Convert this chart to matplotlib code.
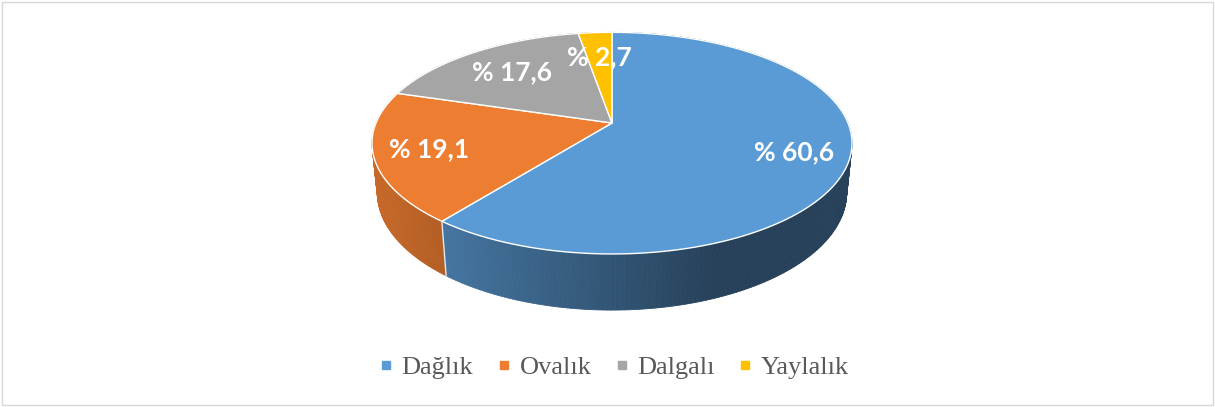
import numpy as np
import matplotlib
matplotlib.use("Agg")
import matplotlib.pyplot as plt
from matplotlib.patches import Polygon, Rectangle
from matplotlib.lines import Line2D

# data
labels = ["Dağlık", "Ovalık", "Dalgalı", "Yaylalık"]
values = [60.6, 19.1, 17.6, 2.7]
value_text = ["% 60,6", "% 19,1", "% 17,6", "% 2,7"]
colors = ["#5B9BD5", "#ED7D31", "#A5A5A5", "#FFC000"]
label_radius = [0.78, 0.78, 0.70, 0.70]

# 3d view settings (pixel layout)
elev = np.radians(27)
s, c = np.sin(elev), np.cos(elev)
D = 4.9
h = 0.238
cx, cy, scale = 612, 123, 236


def project(theta, r, z):
    x = r * np.sin(theta)
    y = r * np.cos(theta)
    d = D + y * c - z * s
    X = x * D / d
    Y = (y * s + z * c) * D / d
    return cx + X * scale, cy - Y * scale


def shade(hexcol, px):
    f = 0.83 - (px - 380) / 335 * 0.41
    f = min(max(f, 0.42), 0.85)
    rgb = np.array(matplotlib.colors.to_rgb(hexcol))
    return tuple(rgb * f)


fig = plt.figure(figsize=(12.15, 4.07), dpi=100)
ax = fig.add_axes([0, 0, 1, 1])
ax.set_xlim(0, 1215)
ax.set_ylim(407, 0)
ax.axis("off")

fracs = np.array(values) / sum(values)
bounds = np.concatenate([[0], np.cumsum(fracs)]) * 2 * np.pi

# side walls
quads = []
for i in range(len(values)):
    ts = np.linspace(bounds[i], bounds[i + 1], max(int(fracs[i] * 400), 4))
    for t0, t1 in zip(ts[:-1], ts[1:]):
        p = [project(t0, 1, 0), project(t1, 1, 0), project(t1, 1, -h), project(t0, 1, -h)]
        depth = np.cos((t0 + t1) / 2)
        mx = (p[0][0] + p[1][0]) / 2
        quads.append((depth, p, shade(colors[i], mx)))
quads.sort(key=lambda q: -q[0])
for depth, p, col in quads:
    ax.add_patch(Polygon(p, closed=True, facecolor=col, edgecolor=col, lw=0.6))

# visible slice edges on the side
for b in bounds[1:-1]:
    if np.cos(b) < 0:
        x0, y0 = project(b, 1, 0)
        x1, y1 = project(b, 1, -h)
        ax.plot([x0, x1], [y0, y1], color="#E8E8E8", lw=1)

# top face
for i in range(len(values)):
    ts = np.linspace(bounds[i], bounds[i + 1], 200)
    pts = [project(0, 0, 0)] + [project(t, 1, 0) for t in ts]
    ax.add_patch(Polygon(pts, closed=True, facecolor=colors[i], edgecolor="white", lw=1.0,
                         joinstyle="round"))

# labels
for i in range(len(values)):
    mid = (bounds[i] + bounds[i + 1]) / 2
    x, y = project(mid, label_radius[i], 0)
    ax.text(x, y, value_text[i], color="white", fontsize=19, fontweight="bold",
            family="Lato", ha="center", va="center")

# legend
handles = [Line2D([], [], marker="s", linestyle="", markersize=6, color=col) for col in colors]
fig.legend(handles, labels, loc="center", bbox_to_anchor=(0.505, 0.098), ncol=4,
           frameon=False, prop={"family": ["Liberation Serif"], "size": 19},
           labelcolor="#595959", handletextpad=0.3, columnspacing=0.85, handlelength=0.6)

# chart border
fig.add_artist(Rectangle((0.002, 0.004), 0.996, 0.99, transform=fig.transFigure,
                         fill=False, edgecolor="#D9D9D9", lw=1))

fig.savefig("out.png", dpi=100)
